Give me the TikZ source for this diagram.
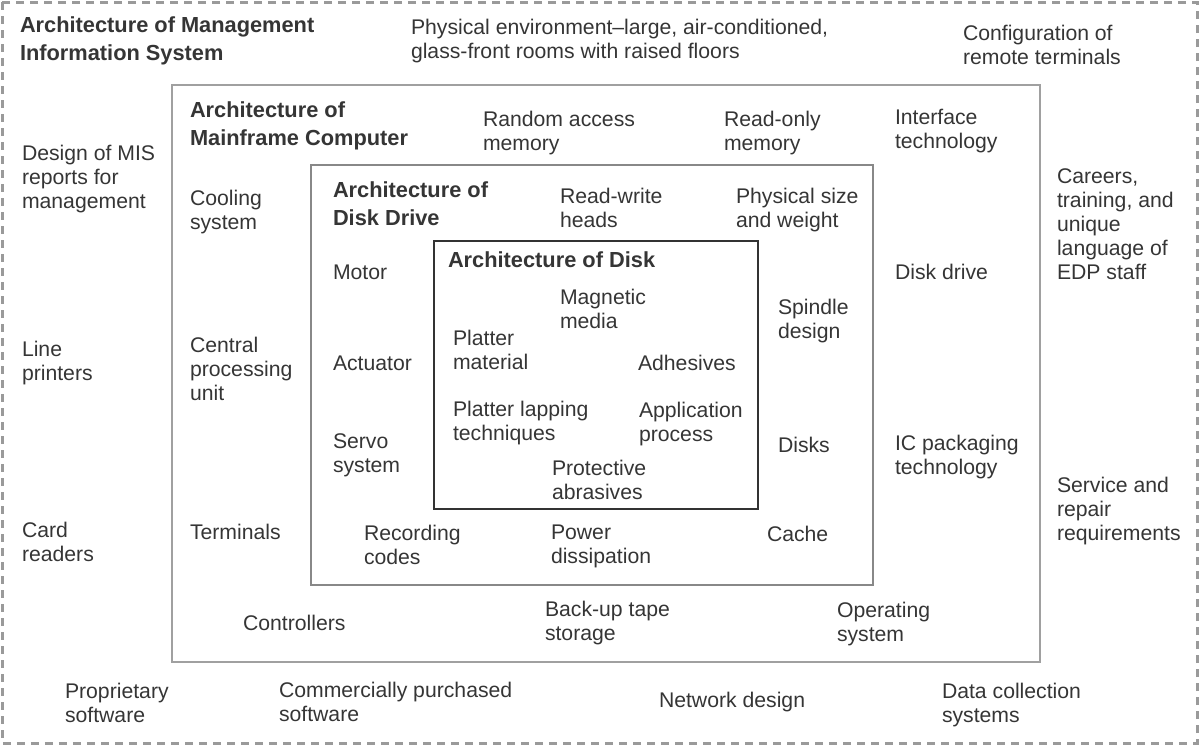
\documentclass[tikz,border=0pt]{standalone}
\usepackage{fontspec}
\setmainfont{Liberation Sans}
\usepackage{xcolor}
\usepackage{tikz}
\usetikzlibrary{positioning}

\definecolor{txtgray}{HTML}{353535}
\definecolor{dashgray}{HTML}{9A9A9A}
\definecolor{framegray}{HTML}{A0A0A0}
\definecolor{drivegray}{HTML}{888888}
\definecolor{diskgray}{HTML}{333333}

\begin{document}
\begin{tikzpicture}[
    x=0.5pt, y=-0.5pt,
    item/.style={anchor=north west, inner sep=0pt, outer sep=0pt, align=left, text=txtgray, font=\fontsize{10.6}{12}\selectfont},
    title/.style={item, font=\fontsize{10.9}{14}\selectfont\bfseries},
    outerbox/.style={draw=dashgray, line width=1.5pt, dash pattern=on 4pt off 3pt},
    framebox/.style={draw=framegray, line width=1pt},
    drivebox/.style={draw=drivegray, line width=1pt},
    diskbox/.style={draw=diskgray, line width=1pt}
]

\useasboundingbox (0,0) rectangle (1200,746);

\draw[outerbox] (2,2) rectangle (1197,743);
\draw[framebox] (172,85) rectangle (1040,662);
\draw[drivebox] (311,165) rectangle (873,585);
\draw[diskbox] (434,241) rectangle (758,509);

\node[title] (mis) at (20,17) {Architecture of Management\\Information System};
\node[title] (mainframe) at (190,102) {Architecture of\\Mainframe Computer};
\node[title] (drive) at (333,182) {Architecture of\\Disk Drive};
\node[title] (disk) at (448,252) {Architecture of Disk};

\node[item] (physenv) at (411,19) {Physical environment\textendash large, air-conditioned,\\glass-front rooms with raised floors};
\node[item] (config) at (963,25) {Configuration of\\remote terminals};
\node[item] (misreports) at (22,145) {Design of MIS\\reports for\\management};
\node[item] (printers) at (22,341) {Line\\printers};
\node[item] (cardreaders) at (22,522) {Card\\readers};
\node[item] (propsw) at (65,683) {Proprietary\\software};
\node[item] (commsw) at (279,682) {Commercially purchased\\software};
\node[item] (network) at (659,692) {Network design};
\node[item] (datacoll) at (942,683) {Data collection\\systems};
\node[item] (careers) at (1057,169) {Careers,\\training, and\\unique\\language of\\EDP staff};
\node[item] (service) at (1057,477) {Service and\\repair\\requirements};

\node[item] (ram) at (483,111) {Random access\\memory};
\node[item] (rom) at (724,111) {Read-only\\memory};
\node[item] (interface) at (895,109) {Interface\\technology};
\node[item] (cooling) at (190,190) {Cooling\\system};
\node[item] (cpu) at (190,337) {Central\\processing\\unit};
\node[item] (terminals) at (190,524) {Terminals};
\node[item] (diskdrive) at (895,264) {Disk drive};
\node[item] (icpack) at (895,435) {IC packaging\\technology};
\node[item] (controllers) at (243,615) {Controllers};
\node[item] (backup) at (545,601) {Back-up tape\\storage};
\node[item] (opsys) at (837,602) {Operating\\system};

\node[item] (rwheads) at (560,188) {Read-write\\heads};
\node[item] (physsize) at (736,188) {Physical size\\and weight};
\node[item] (motor) at (333,265) {Motor};
\node[item] (actuator) at (333,356) {Actuator};
\node[item] (servo) at (333,434) {Servo\\system};
\node[item] (spindle) at (778,299) {Spindle\\design};
\node[item] (disks) at (778,437) {Disks};
\node[item] (recording) at (364,525) {Recording\\codes};
\node[item] (power) at (551,525) {Power\\dissipation};
\node[item] (cache) at (767,526) {Cache};

\node[item] (magnetic) at (560,289) {Magnetic\\media};
\node[item] (plattermat) at (453,330) {Platter\\material};
\node[item] (adhesives) at (638,355) {Adhesives};
\node[item] (lapping) at (453,401) {Platter lapping\\techniques};
\node[item] (application) at (639,402) {Application\\process};
\node[item] (protective) at (552,460) {Protective\\abrasives};

\end{tikzpicture}
\end{document}
